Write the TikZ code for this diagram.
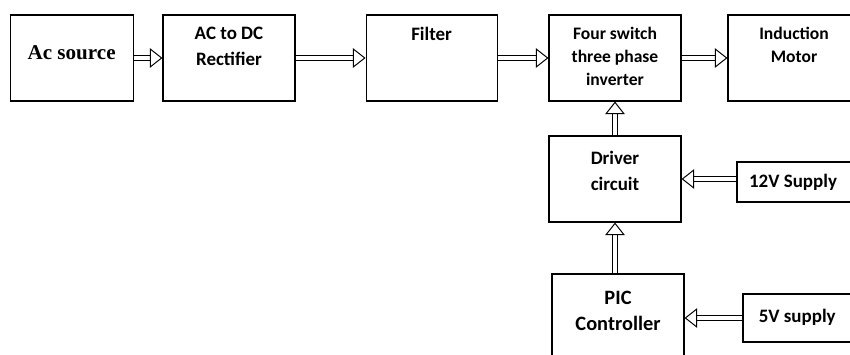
\documentclass[tikz,border=0pt]{standalone}
\usepackage{fontspec}
\setmainfont{Carlito}
\newfontfamily\serifbf{Liberation Serif}
\usetikzlibrary{arrows.meta}
\begin{document}
\begin{tikzpicture}[
  blk/.style={draw, line width=0.8pt, minimum width=3.3cm, minimum height=2.15cm, inner sep=0pt},
  sup/.style={draw, line width=0.8pt, minimum width=3.0cm, inner sep=0pt},
  txt/.style={font=\fontsize{13.5}{18.5}\selectfont\bfseries, align=center, inner sep=0pt},
  flow/.style={double, line width=0.6pt, double distance=3.4pt,
    -{Triangle[open, length=9pt, width=14pt, line width=0.7pt]}}
]
  \clip (0,0) rectangle (21.25,8.875);

  % --- power path ---
  \node[blk, minimum width=3.075cm] (src) at (1.79, 7.425) {};
  \node[font=\fontsize{15}{18}\serifbf\bfseries] at (1.79, 7.55) {Ac source};

  \node[blk] (rect) at (5.725, 7.425) {};
  \node[txt, below=0.3cm] at (rect.north) {AC to DC\\Rectifier};

  \node[blk, minimum width=3.275cm] (filt) at (10.79, 7.425) {};
  \node[txt, below=0.3cm] at (filt.north) {Filter};

  \node[blk] (inv) at (15.375, 7.425) {};
  \node[txt, below=0.3cm, font=\fontsize{12.5}{16.6}\selectfont\bfseries] at (inv.north) {Four switch\\three phase\\inverter};

  \node[blk] (mot) at (19.85, 7.425) {};
  \node[txt, below=0.3cm, font=\fontsize{12.5}{16.8}\selectfont\bfseries] at (mot.north) {Induction\\Motor};

  % --- control path ---
  \node[blk] (drv) at (15.375, 4.4) {};
  \node[txt] at (15.375, 4.6) {Driver\\circuit};

  \node[sup, minimum height=1.0cm] (v12) at (19.925, 4.325) {};
  \node[txt] at (19.825, 4.325) {12V Supply};

  \node[blk] (pic) at (15.45, 0.95) {};
  \node[txt, font=\fontsize{14.5}{19}\selectfont\bfseries] at (15.45, 1.1) {PIC\\Controller};

  \node[sup, minimum height=1.2cm] (v5) at (20.075, 0.925) {};
  \node[txt] at (19.93, 0.95) {5V supply};

  % --- arrows ---
  \draw[flow] (src.east) -- (rect.west);
  \draw[flow] (rect.east) -- (filt.west);
  \draw[flow] (filt.east) -- (inv.west);
  \draw[flow] (inv.east) -- (mot.west);
  \draw[flow] (drv.north) -- (inv.south);
  \draw[flow] (pic.north -| drv.south) -- (drv.south);
  \draw[flow] (v12.west |- drv.east) -- (drv.east);
  \draw[flow] (v5.west) -- (v5.west -| pic.east);
\end{tikzpicture}
\end{document}
